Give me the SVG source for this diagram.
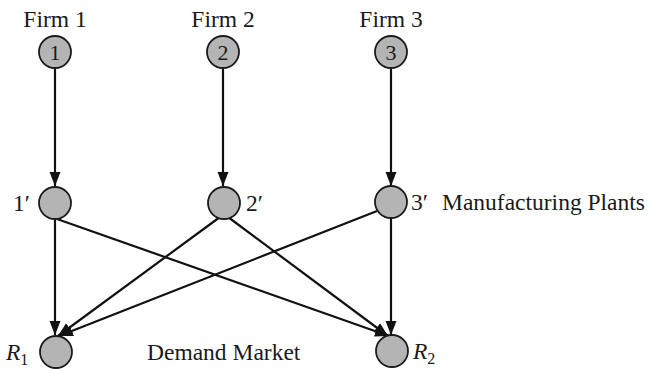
<svg xmlns="http://www.w3.org/2000/svg" width="654" height="369" viewBox="0 0 654 369">
  <style>
    .node { fill: #b4b4b4; stroke: #1a1a1a; stroke-width: 1.8; }
    .lbl { font-family: "Liberation Serif", "Times New Roman", serif; font-size: 23.5px; fill: #1a1a1a; }
    .num { font-family: "Liberation Serif", "Times New Roman", serif; font-size: 22px; fill: #1a1a1a; text-anchor: middle; }
    .it { font-style: italic; }
    .edge { stroke: #111; stroke-width: 2.2; fill: none; marker-end: url(#arrow); }
  </style>
  <defs>
    <marker id="arrow" markerUnits="userSpaceOnUse" markerWidth="16" markerHeight="12" refX="14" refY="6" orient="auto">
      <path d="M0,0.5 L14,6 L0,11.5 z" fill="#111"/>
    </marker>
  </defs>
  <rect width="654" height="369" fill="#fff"/>

  <!-- connectors -->
  <g id="edges">
    <line class="edge" x1="55" y1="68" x2="55" y2="186"/>
    <line class="edge" x1="223" y1="68" x2="223" y2="186"/>
    <line class="edge" x1="391" y1="68" x2="391" y2="186"/>
    <line class="edge" x1="55" y1="219" x2="55" y2="335"/>
    <line class="edge" x1="391" y1="218" x2="391" y2="335"/>
    <line class="edge" x1="57" y1="219" x2="389" y2="336"/>
    <line class="edge" x1="220" y1="217" x2="58" y2="336"/>
    <line class="edge" x1="228" y1="217" x2="388" y2="336"/>
    <line class="edge" x1="377" y1="211" x2="59" y2="336"/>
  </g>

  <!-- firms -->
  <g id="firm1">
    <text class="lbl" x="55" y="27" text-anchor="middle">Firm 1</text>
    <circle class="node" cx="55" cy="52" r="16"/>
    <text class="num" x="55" y="60">1</text>
  </g>
  <g id="firm2">
    <text class="lbl" x="223" y="27" text-anchor="middle">Firm 2</text>
    <circle class="node" cx="223" cy="52" r="16"/>
    <text class="num" x="223" y="60">2</text>
  </g>
  <g id="firm3">
    <text class="lbl" x="391" y="27" text-anchor="middle">Firm 3</text>
    <circle class="node" cx="391" cy="52" r="16"/>
    <text class="num" x="391" y="60">3</text>
  </g>

  <!-- manufacturing plants -->
  <g id="plant1">
    <circle class="node" cx="55" cy="203" r="16"/>
    <text class="lbl" x="13" y="211">1′</text>
  </g>
  <g id="plant2">
    <circle class="node" cx="224" cy="203" r="16"/>
    <text class="lbl" x="246" y="211">2′</text>
  </g>
  <g id="plant3">
    <circle class="node" cx="391" cy="202" r="16"/>
    <text class="lbl" x="411" y="210">3′</text>
    <text class="lbl" x="442" y="210">Manufacturing Plants</text>
  </g>

  <!-- demand markets -->
  <g id="marketR1">
    <circle class="node" cx="56" cy="352" r="16"/>
    <text class="lbl it" x="6" y="360">R<tspan font-size="16" font-style="normal" dy="5">1</tspan></text>
  </g>
  <g id="marketR2">
    <circle class="node" cx="392" cy="351" r="16"/>
    <text class="lbl it" x="413" y="359">R<tspan font-size="16" font-style="normal" dy="5">2</tspan></text>
  </g>
  <g id="marketLabel">
    <text class="lbl" x="147" y="360">Demand Market</text>
  </g>
</svg>
